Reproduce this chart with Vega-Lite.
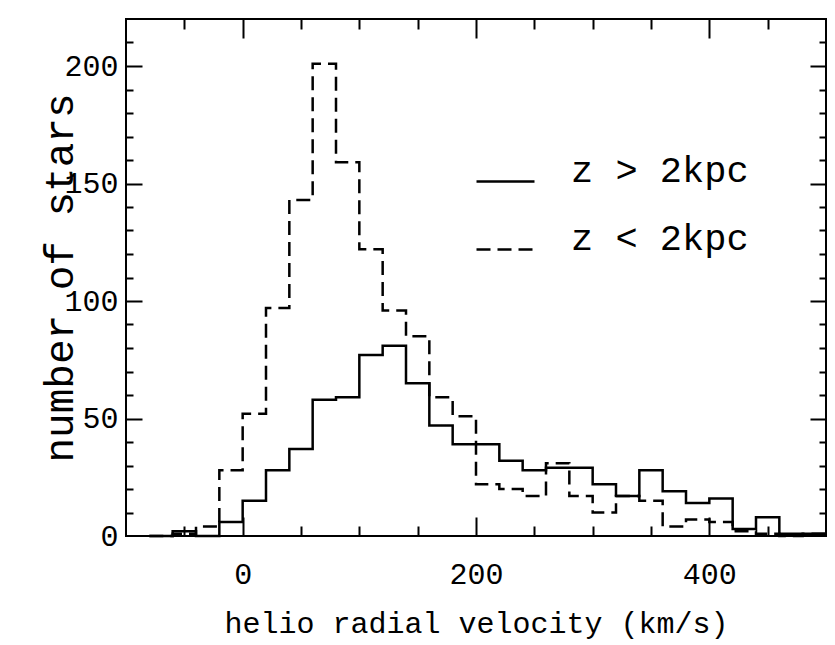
{
  "$schema": "https://vega.github.io/schema/vega-lite/v6.json",
  "width": 700,
  "height": 517,
  "autosize": "none",
  "padding": {"left": 126, "top": 19, "right": 9, "bottom": 109},
  "background": "white",
  "config": {
    "view": {"stroke": "black", "strokeWidth": 2},
    "font": "Liberation Mono",
    "axis": {"domain": false, "grid": false, "labelOverlap": false, "labelFlush": false}
  },
  "data": {
    "values": [
      {"lo": -80, "hi": -60, "gt": 0, "lt": 0},
      {"lo": -60, "hi": -40, "gt": 2, "lt": 1},
      {"lo": -40, "hi": -20, "gt": 0, "lt": 4},
      {"lo": -20, "hi": 0, "gt": 6, "lt": 28},
      {"lo": 0, "hi": 20, "gt": 15, "lt": 52},
      {"lo": 20, "hi": 40, "gt": 28, "lt": 97},
      {"lo": 40, "hi": 60, "gt": 37, "lt": 143},
      {"lo": 60, "hi": 80, "gt": 58, "lt": 201},
      {"lo": 80, "hi": 100, "gt": 59, "lt": 159},
      {"lo": 100, "hi": 120, "gt": 77, "lt": 122},
      {"lo": 120, "hi": 140, "gt": 81, "lt": 96},
      {"lo": 140, "hi": 160, "gt": 65, "lt": 85},
      {"lo": 160, "hi": 180, "gt": 47, "lt": 59},
      {"lo": 180, "hi": 200, "gt": 39, "lt": 51},
      {"lo": 200, "hi": 220, "gt": 39, "lt": 22},
      {"lo": 220, "hi": 240, "gt": 32, "lt": 20},
      {"lo": 240, "hi": 260, "gt": 28, "lt": 17},
      {"lo": 260, "hi": 280, "gt": 29, "lt": 31},
      {"lo": 280, "hi": 300, "gt": 29, "lt": 17},
      {"lo": 300, "hi": 320, "gt": 22, "lt": 10},
      {"lo": 320, "hi": 340, "gt": 17, "lt": 17},
      {"lo": 340, "hi": 360, "gt": 28, "lt": 15},
      {"lo": 360, "hi": 380, "gt": 19, "lt": 4},
      {"lo": 380, "hi": 400, "gt": 14, "lt": 7},
      {"lo": 400, "hi": 420, "gt": 16, "lt": 6},
      {"lo": 420, "hi": 440, "gt": 3, "lt": 2},
      {"lo": 440, "hi": 460, "gt": 8, "lt": 1},
      {"lo": 460, "hi": 480, "gt": 1, "lt": 0},
      {"lo": 480, "hi": 500, "gt": 1, "lt": 1}
    ]
  },
  "transform": [
    {"fold": ["gt", "lt"], "as": ["series", "count"]},
    {"fold": ["lo", "hi"], "as": ["edge", "v"]}
  ],
  "layer": [
    {
      "transform": [{"filter": "datum.series == 'gt'"}],
      "mark": {"type": "line", "color": "black", "strokeWidth": 2.5, "interpolate": "linear", "strokeCap": "butt"},
      "encoding": {
        "x": {
          "field": "v", "type": "quantitative",
          "scale": {"domain": [-100, 500], "nice": false, "zero": false},
          "axis": {
            "orient": "bottom",
            "title": "helio radial velocity (km/s)",
            "titleFont": "Liberation Mono", "titleFontSize": 30, "titleFontWeight": "normal", "titleColor": "black",
            "titleBaseline": "alphabetic", "titleY": 96,
            "values": [0, 200, 400],
            "labelFont": "Liberation Mono", "labelFontSize": 30, "labelColor": "black",
            "labelPadding": 23, "ticks": false, "tickSize": 0
          }
        },
        "y": {
          "field": "count", "type": "quantitative",
          "scale": {"domain": [0, 220], "nice": false},
          "axis": {
            "orient": "left",
            "title": "number of stars",
            "titleFont": "Liberation Mono", "titleFontSize": 41, "titleFontWeight": "normal", "titleColor": "black",
            "titleBaseline": "alphabetic", "titleX": -54, "titleY": 258.5, "titleAngle": -90, "titleAlign": "center",
            "values": [0, 50, 100, 150, 200],
            "labelFont": "Liberation Mono", "labelFontSize": 30, "labelColor": "black",
            "labelPadding": 8, "ticks": false, "tickSize": 0
          }
        },
        "strokeDash": {
          "field": "series", "type": "nominal",
          "scale": {"domain": ["gt", "lt"], "range": [[1, 0], [14, 7]]},
          "legend": {
            "orient": "none", "legendX": 349, "legendY": 132,
            "title": null,
            "labelExpr": "datum.value == 'gt' ? 'z > 2kpc' : 'z < 2kpc'",
            "labelFont": "Liberation Mono", "labelFontSize": 37, "labelColor": "black",
            "labelBaseline": "alphabetic",
            "labelOffset": 35, "labelLimit": 400,
            "symbolType": "stroke", "symbolSize": 3364, "symbolStrokeWidth": 2.5, "symbolStrokeColor": "black",
            "rowPadding": 30, "padding": 0
          }
        },
        "order": [{"field": "v", "type": "quantitative"}, {"field": "edge", "type": "nominal"}]
      }
    },
    {
      "transform": [{"filter": "datum.series == 'lt'"}],
      "mark": {"type": "line", "color": "black", "strokeWidth": 2.5, "interpolate": "linear", "strokeCap": "butt"},
      "encoding": {
        "x": {"field": "v", "type": "quantitative", "axis": null},
        "y": {"field": "count", "type": "quantitative", "axis": null},
        "strokeDash": {"field": "series", "type": "nominal"},
        "order": [{"field": "v", "type": "quantitative"}, {"field": "edge", "type": "nominal"}]
      }
    },
    {
      "transform": [{"filter": "false"}],
      "mark": {"type": "line", "color": "black"},
      "encoding": {
        "x": {
          "field": "v", "type": "quantitative",
          "axis": {"orient": "bottom", "title": null, "labels": false, "ticks": false, "values": [0, 200, 400], "grid": true, "gridColor": "black", "gridWidth": 2, "gridOpacity": 1, "gridDash": [19, 479, 19, 0]}
        },
        "y": {
          "field": "count", "type": "quantitative",
          "axis": {"orient": "left", "title": null, "labels": false, "ticks": false, "values": [50, 100, 150, 200], "grid": true, "gridColor": "black", "gridWidth": 2, "gridOpacity": 1, "gridDash": [16, 668, 16, 0]}
        }
      }
    },
    {
      "transform": [{"filter": "false"}],
      "mark": {"type": "line", "color": "black"},
      "encoding": {
        "x": {
          "field": "v", "type": "quantitative",
          "axis": {"orient": "bottom", "title": null, "labels": false, "ticks": false, "values": [-50, 50, 100, 150, 250, 300, 350, 450], "grid": true, "gridColor": "black", "gridWidth": 2, "gridOpacity": 1, "gridDash": [10, 497, 10, 0]}
        },
        "y": {
          "field": "count", "type": "quantitative",
          "axis": {"orient": "left", "title": null, "labels": false, "ticks": false, "values": [10, 20, 30, 40, 60, 70, 80, 90, 110, 120, 130, 140, 160, 170, 180, 190, 210], "grid": true, "gridColor": "black", "gridWidth": 2, "gridOpacity": 1, "gridDash": [7, 686, 7, 0]}
        }
      }
    }
  ],
  "resolve": {"axis": {"x": "independent", "y": "independent"}}
}
